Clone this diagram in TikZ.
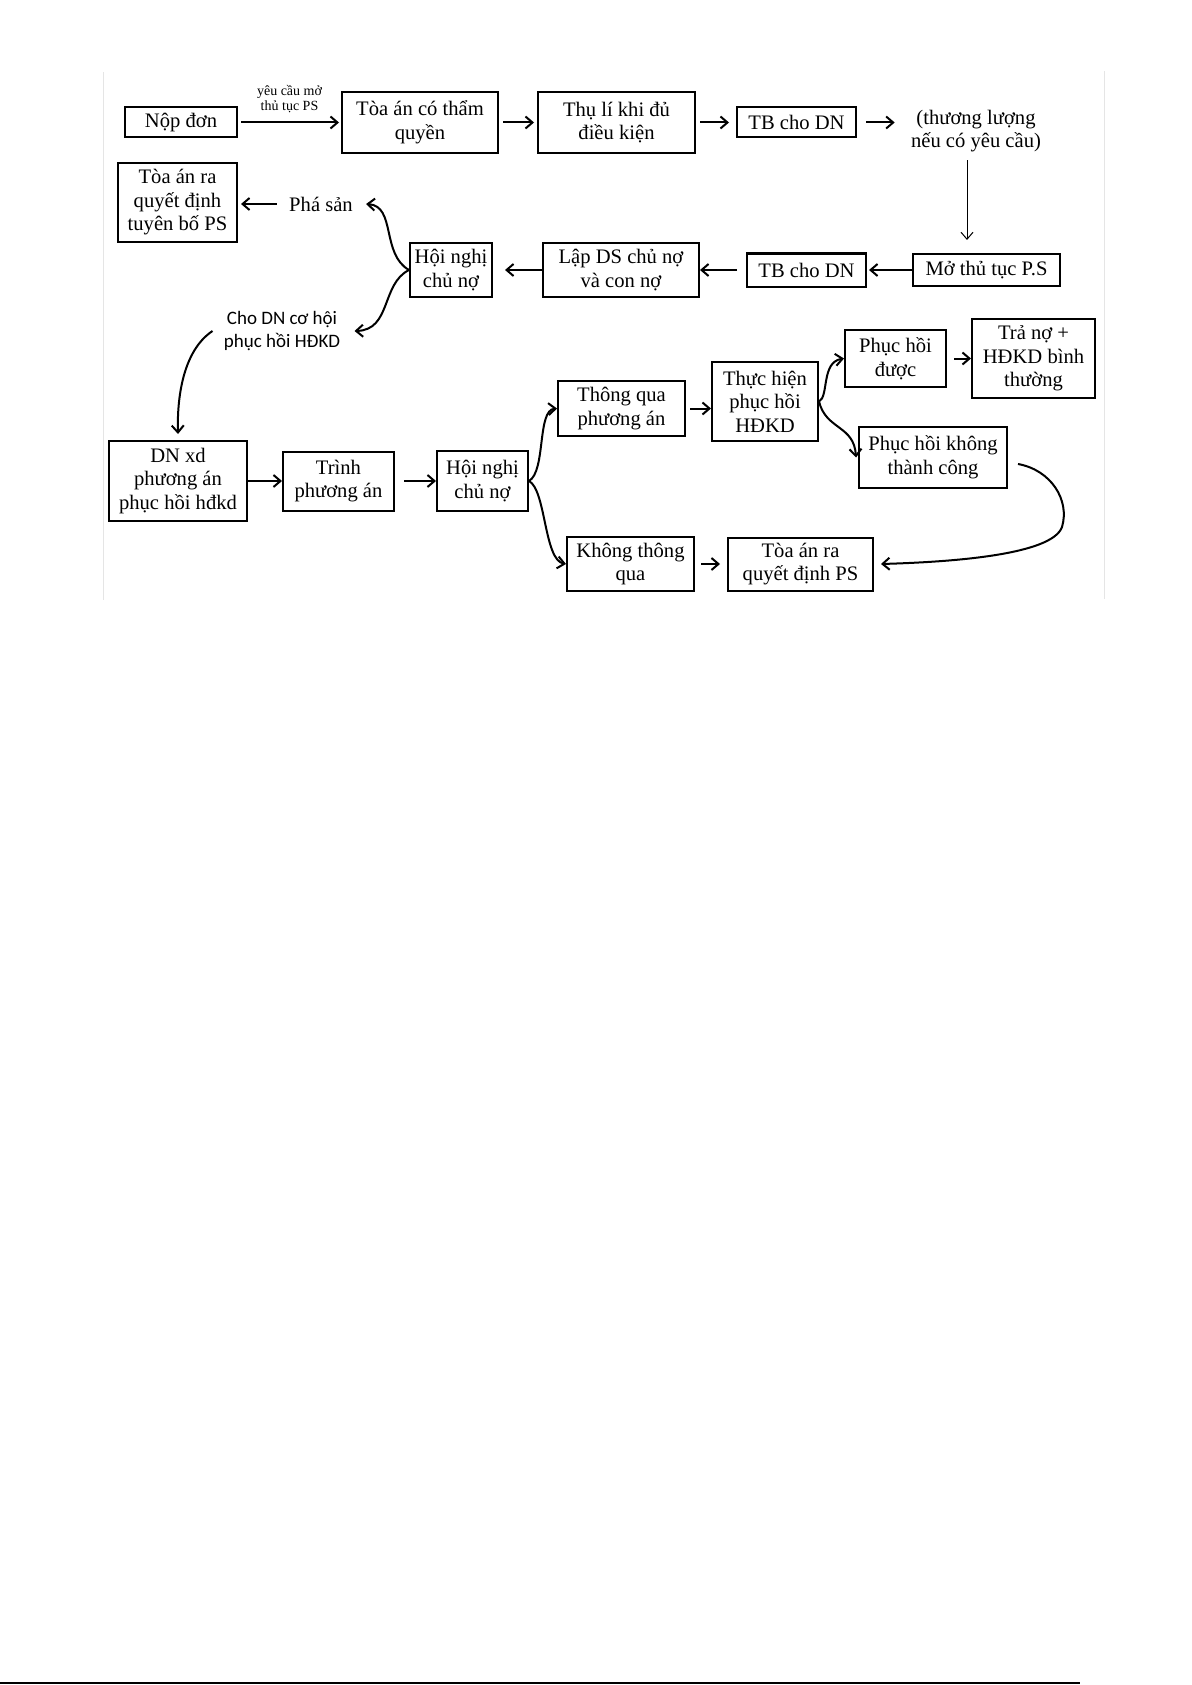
\documentclass[tikz,border=0pt]{standalone}
\usepackage{fontspec}
\setmainfont{Liberation Serif}
\newfontfamily\calibri{Carlito}
\usetikzlibrary{arrows.meta}

\begin{document}
\begin{tikzpicture}[x=0.5pt,y=-0.5pt,>={Straight Barb[length=3.5pt,width=6pt]}]

\useasboundingbox (0,0) rectangle (1192,1685);

\tikzstyle {boite} = [draw, line width=1pt, align=center, inner sep=0pt, font=\fontsize{10.3}{11.75}\selectfont];
\tikzstyle {texte} = [align=center, inner sep=0pt, font=\fontsize{10.3}{11.5}\selectfont];
\tikzstyle {fleche} = [->, line width=1pt];

%cadre:
\draw[gray!20] (103,72)--(103,600);
\draw[gray!20] (1104,71)--(1104,599);
\draw[line width=0.75pt] (0,1683)--(1080,1683);

%ligne 1
\node[boite, minimum width=56pt, minimum height=15pt] (nopdon) at (181,122.5) {Nộp đơn};
\node[boite, minimum width=78pt, minimum height=30.5pt] (toaan) at (420,122.5) {Tòa án có thẩm\\quyền};
\node[boite, minimum width=78.5pt, minimum height=30.5pt] (thuli) at (616.5,122.5) {Thụ lí khi đủ\\điều kiện};
\node[boite, minimum width=59.5pt, minimum height=15pt] (tbdn) at (796.5,122.5) {TB cho DN};
\node[texte] (thuongluong) at (976,131) {(thương lượng\\nếu có yêu cầu)};

%ligne 2
\node[boite, minimum width=73.5pt, minimum height=16pt] (mo) at (986.5,270) {Mở thủ tục P.S};
\node[boite, minimum width=59.5pt, minimum height=16.5pt] (tbdnb) at (806.5,270) {TB cho DN};
\node[boite, minimum width=78pt, minimum height=27pt] (lapds) at (621,270) {Lập DS chủ nợ\\và con nợ};
\node[boite, minimum width=41pt, minimum height=27pt] (hoinghi) at (451,270) {Hội nghị\\chủ nợ};
\node[texte] (phasan) at (321,204) {Phá sản};
\node[boite, minimum width=59.5pt, minimum height=39.5pt] (tuyenbo) at (177.5,202.5) {Tòa án ra\\quyết định\\tuyên bố PS};
\node[texte, font=\calibri\fontsize{9.5}{11.5}\selectfont] (chodn) at (282,331) {Cho DN cơ hội\\phục hồi HĐKD};

%ligne 3
\node[boite, minimum width=69pt, minimum height=40pt] (dnxd) at (178,481) {DN xd\\phương án\\phục hồi hđkd};
\node[boite, minimum width=55.5pt, minimum height=29.5pt] (trinh) at (338.5,481) {Trình\\phương án};
\node[boite, minimum width=45.5pt, minimum height=30pt] (hoinghib) at (482.5,481) {Hội nghị\\chủ nợ};
\node[boite, minimum width=63.5pt, minimum height=27.5pt] (thongqua) at (621.5,408.5) {Thông qua\\phương án};
\node[boite, minimum width=63.5pt, minimum height=27pt] (khongtq) at (630.5,564) {Không thông\\qua};
\node[boite, minimum width=53pt, minimum height=39.5pt] (thuchien) at (765,401.5) {Thực hiện\\phục hồi\\HĐKD};
\node[boite, minimum width=50.5pt, minimum height=28.5pt] (duoc) at (895.5,358.5) {Phục hồi\\được};
\node[boite, minimum width=61.5pt, minimum height=39.5pt] (trano) at (1033.5,358.5) {Trả nợ +\\HĐKD bình\\thường};
\node[boite, minimum width=74pt, minimum height=30.5pt] (khong) at (933,457.5) {Phục hồi không\\thành công};
\node[boite, minimum width=72.5pt, minimum height=26.5pt] (quyetdinh) at (800.5,564) {Tòa án ra\\quyết định PS};

%fleches ligne 1
\draw[fleche, shorten <=1.5pt, shorten >=1pt] (nopdon) -- (toaan)
  node[midway, above=4.5pt, align=center, inner sep=0pt, font=\fontsize{7}{7.5}\selectfont] (yeucau) {yêu cầu mở\\thủ tục PS};
\draw[fleche, shorten <=2pt, shorten >=1.5pt] (toaan) -- (thuli);
\draw[fleche, shorten <=2pt, shorten >=3.5pt] (thuli) -- (tbdn);
\draw[fleche, shorten <=4.5pt, shorten >=8pt] (tbdn.east) -- (tbdn.east -| thuongluong.west);
\coordinate (c1) at ([xshift=-4.5pt]thuongluong.south);
\draw[->, line width=0.5pt, shorten <=4pt, shorten >=6.5pt] (c1) -- (c1 |- mo.north);

%fleches ligne 2
\draw[fleche, shorten >=1pt] (mo) -- (tbdnb);
\draw[fleche, shorten <=4.5pt] (tbdnb) -- (lapds);
\draw[fleche, shorten >=6pt] (lapds) -- (hoinghi);
\draw[fleche, shorten <=6pt, shorten >=1.5pt] (phasan.west) -- (phasan.west -| tuyenbo.east);
\draw[fleche] (hoinghi.west) .. controls +(-28,-16) and +(30,2) .. ([xshift=6.5pt]phasan.east);
\draw[fleche] (hoinghi.west) .. controls +(-28,14) and +(37,-1) .. ([xshift=7pt]chodn.east);
\draw[fleche] ([xshift=-5.5pt]chodn.west) .. controls +(-30,20) and +(-1,-35) .. ([yshift=3pt]dnxd.north);

%fleches ligne 3
\draw[fleche] (dnxd) -- (trinh);
\draw[fleche, shorten <=4.5pt] (trinh) -- (hoinghib);
\draw[fleche] (hoinghib.east) .. controls +(17,-10) and +(-20,1.5) .. (thongqua.west);
\draw[fleche] (hoinghib.east) .. controls +(17,9) and +(-22,-4) .. (khongtq.west);
\draw[fleche, shorten <=2pt] (thongqua.east) -- (thongqua.east -| thuchien.west);
\draw[fleche] (thuchien.east) .. controls +(10,-5) and +(-23,3.5) .. (duoc.west);
\draw[fleche] (thuchien.east) .. controls +(7,28.5) and +(-2,-32.5) .. ([xshift=-1pt]khong.west);
\draw[fleche, shorten <=3.5pt] (duoc) -- (trano);
\coordinate (virage) at (1062,527);
\draw[fleche] ([xshift=5pt,yshift=-3.25pt]khong.east) .. controls +(33,6) and +(8,-27) .. (virage)
  .. controls +(-10,28) and +(70,-2) .. ([xshift=3.5pt]quyetdinh.east);
\draw[fleche, shorten <=3pt, shorten >=3.5pt] (khongtq) -- (quyetdinh);

\end{tikzpicture}
\end{document}
